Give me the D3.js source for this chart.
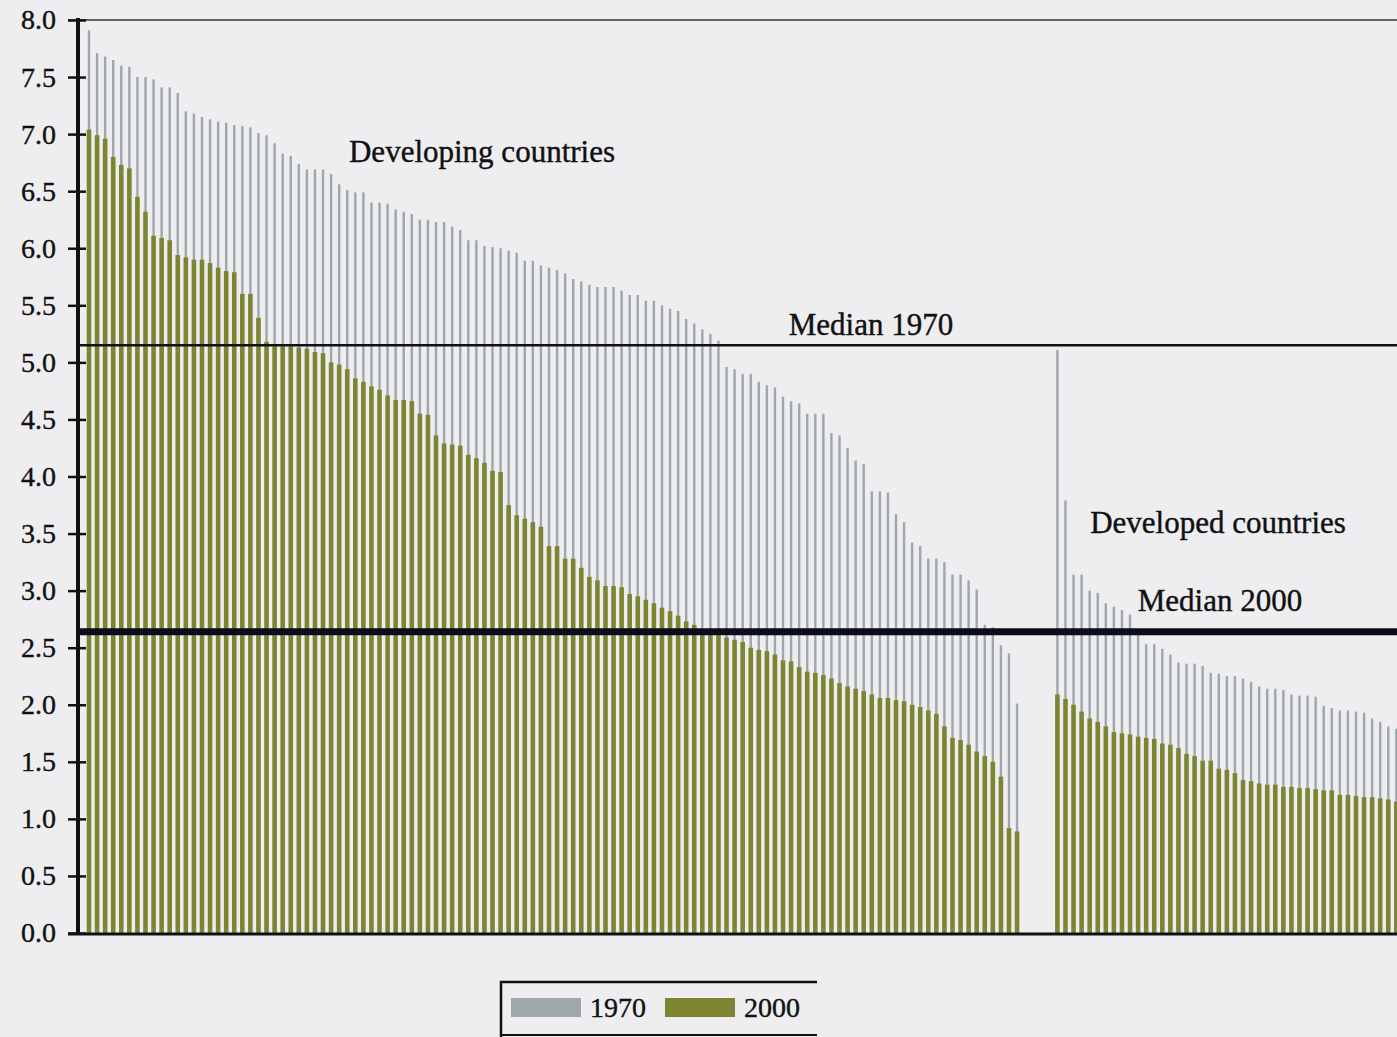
<!DOCTYPE html>
<html>
<head>
<meta charset="utf-8">
<script src="https://cdn.jsdelivr.net/npm/d3@7/dist/d3.min.js"></script>
<style type="text/css">
  body {
    margin: 0px;
    background: #eeeef1;
  }
  svg { display: block; }
  text {
    font-family: 'Liberation Serif', 'Times New Roman', serif;
    fill: #111;
  }
  .label {
    stroke: #111;
    stroke-width: 0.4px;
  }
</style>
</head>
<body>

<svg id="chart" width="1397" height="1037"></svg>

<script>

// values, countries sorted within each group
var dev1970 = [7.91, 7.71, 7.68, 7.65, 7.60, 7.59, 7.50, 7.50, 7.48, 7.41,
  7.41, 7.36, 7.20, 7.18, 7.15, 7.13, 7.11, 7.10, 7.08, 7.07,
  7.06, 7.01, 6.99, 6.92, 6.83, 6.81, 6.74, 6.69, 6.69, 6.69,
  6.65, 6.56, 6.51, 6.49, 6.49, 6.40, 6.40, 6.39, 6.34, 6.32,
  6.30, 6.25, 6.25, 6.23, 6.23, 6.19, 6.16, 6.07, 6.07, 6.02,
  6.01, 6.00, 5.98, 5.96, 5.89, 5.89, 5.85, 5.83, 5.81, 5.78,
  5.73, 5.71, 5.68, 5.66, 5.66, 5.66, 5.63, 5.59, 5.59, 5.54,
  5.54, 5.50, 5.47, 5.45, 5.38, 5.34, 5.29, 5.25, 5.19, 4.96,
  4.94, 4.90, 4.90, 4.83, 4.80, 4.78, 4.70, 4.66, 4.64, 4.55,
  4.55, 4.55, 4.38, 4.36, 4.25, 4.14, 4.11, 3.87, 3.87, 3.86,
  3.67, 3.60, 3.42, 3.39, 3.28, 3.28, 3.25, 3.14, 3.14, 3.09,
  3.01, 2.70, 2.68, 2.52, 2.45, 2.01];

var dev2000 = [7.04, 6.99, 6.96, 6.80, 6.73, 6.70, 6.45, 6.32, 6.11, 6.09,
  6.07, 5.94, 5.92, 5.90, 5.90, 5.87, 5.83, 5.80, 5.79, 5.60,
  5.60, 5.39, 5.18, 5.14, 5.14, 5.14, 5.13, 5.12, 5.09, 5.08,
  5.00, 4.98, 4.94, 4.86, 4.83, 4.79, 4.76, 4.71, 4.67, 4.67,
  4.66, 4.55, 4.54, 4.36, 4.29, 4.28, 4.27, 4.19, 4.16, 4.12,
  4.05, 4.04, 3.75, 3.66, 3.63, 3.60, 3.56, 3.39, 3.39, 3.28,
  3.28, 3.20, 3.12, 3.09, 3.04, 3.04, 3.03, 2.97, 2.95, 2.92,
  2.89, 2.85, 2.82, 2.78, 2.73, 2.70, 2.63, 2.61, 2.61, 2.59,
  2.57, 2.55, 2.50, 2.48, 2.47, 2.44, 2.39, 2.38, 2.33, 2.29,
  2.28, 2.26, 2.23, 2.19, 2.16, 2.14, 2.12, 2.09, 2.06, 2.06,
  2.04, 2.03, 2.00, 1.98, 1.95, 1.92, 1.81, 1.71, 1.69, 1.65,
  1.59, 1.55, 1.50, 1.37, 0.92, 0.89];

var ed1970 = [5.11, 3.79, 3.14, 3.14, 3.00, 2.98, 2.89, 2.86, 2.83, 2.79,
  2.66, 2.53, 2.53, 2.49, 2.44, 2.37, 2.36, 2.36, 2.34, 2.28,
  2.27, 2.25, 2.25, 2.23, 2.20, 2.16, 2.14, 2.14, 2.13, 2.09,
  2.08, 2.08, 2.07, 1.99, 1.97, 1.95, 1.95, 1.94, 1.93, 1.88,
  1.85, 1.81, 1.79];

var ed2000 = [2.09, 2.05, 2.00, 1.94, 1.88, 1.85, 1.81, 1.76, 1.75, 1.74,
  1.72, 1.71, 1.70, 1.66, 1.65, 1.62, 1.57, 1.55, 1.51, 1.51,
  1.44, 1.43, 1.40, 1.34, 1.33, 1.31, 1.30, 1.30, 1.28, 1.28,
  1.27, 1.27, 1.26, 1.25, 1.25, 1.21, 1.21, 1.20, 1.19, 1.19,
  1.18, 1.17, 1.15];

var median1970 = 5.15;
var median2000 = 2.64;

var yTicks = [0, 0.5, 1, 1.5, 2, 2.5, 3, 3.5, 4, 4.5, 5, 5.5, 6, 6.5, 7, 7.5, 8];
var seriesNames = ['1970', '2000'];
var groupLabels = ['Developing countries', 'Developed countries'];

var colGrey = '#9ea7aa';
var colOlive = '#7d8533';

// slot keys: developing, empty gap, developed
var devKeys = dev1970.map(function(d, i) { return 'dev' + i; });
var gapKeys = ['gap0', 'gap1', 'gap2', 'gap3'];
var edKeys = ed1970.map(function(d, i) { return 'ed' + i; });
var slots = devKeys.concat(gapKeys, edKeys);

var bars = [];
dev1970.forEach(function(d, i) { bars.push({ key: devKeys[i], v70: d, v00: dev2000[i] }); });
ed1970.forEach(function(d, i) { bars.push({ key: edKeys[i], v70: d, v00: ed2000[i] }); });

var axisX = 78;
var step = 8.07;

var svg = d3.select('#chart');

var x = d3.scaleBand()
  .domain(slots)
  .range([89 - step / 2, 89 - step / 2 + slots.length * step])
  .padding(0);

var y = d3.scaleLinear()
  .domain([0, 8])
  .range([933, 20]);

var plotRight = 1397;

// 1970 bars behind, 2000 bars in front
svg.append('g').selectAll('rect')
  .data(bars)
  .enter()
  .append('rect')
  .attr('x', function(d) { return x(d.key) + x.bandwidth() / 2 - 1.2; })
  .attr('width', 2.4)
  .attr('y', function(d) { return y(d.v70); })
  .attr('height', function(d) { return y(0) - y(d.v70); })
  .attr('fill', colGrey);

svg.append('g').selectAll('rect')
  .data(bars)
  .enter()
  .append('rect')
  .attr('x', function(d) { return x(d.key) + x.bandwidth() / 2 - 2.3; })
  .attr('width', 4.6)
  .attr('y', function(d) { return y(d.v00); })
  .attr('height', function(d) { return y(0) - y(d.v00); })
  .attr('fill', colOlive);

// top frame line
svg.append('line')
  .attr('x1', axisX - 10).attr('x2', plotRight)
  .attr('y1', y(8)).attr('y2', y(8))
  .attr('stroke', '#333').attr('stroke-width', 1.6);

// median lines
svg.append('line')
  .attr('x1', axisX).attr('x2', plotRight)
  .attr('y1', y(median1970)).attr('y2', y(median1970))
  .attr('stroke', '#111').attr('stroke-width', 2.6);

svg.append('line')
  .attr('x1', axisX).attr('x2', plotRight)
  .attr('y1', y(median2000)).attr('y2', y(median2000))
  .attr('stroke', '#0c0c1a').attr('stroke-width', 7);

// y axis
var yAxis = d3.axisLeft(y)
  .tickValues(yTicks)
  .tickFormat(d3.format('.1f'))
  .tickSize(10)
  .tickPadding(12);

var gy = svg.append('g')
  .attr('transform', 'translate(' + axisX + ',0)')
  .call(yAxis);

gy.select('.domain').remove();
gy.selectAll('.tick line')
  .attr('x1', 8)
  .attr('stroke', '#111')
  .attr('stroke-width', 2.5);
gy.selectAll('.tick text')
  .attr('font-size', 28)
  .attr('fill', '#111')
  .attr('class', 'label')
  .style('font-family', "'Liberation Serif', serif");

gy.append('line')
  .attr('x1', 0).attr('x2', 0)
  .attr('y1', y(8) - 2).attr('y2', y(0) + 2)
  .attr('stroke', '#111').attr('stroke-width', 4);

// baseline
svg.append('line')
  .attr('x1', axisX - 10).attr('x2', plotRight)
  .attr('y1', y(0) + 1).attr('y2', y(0) + 1)
  .attr('stroke', '#111').attr('stroke-width', 3);

// annotations
svg.append('text')
  .attr('class', 'label')
  .attr('x', 482).attr('y', 162)
  .attr('text-anchor', 'middle')
  .attr('font-size', 31)
  .text(groupLabels[0]);

svg.append('text')
  .attr('class', 'label')
  .attr('x', 1218).attr('y', 533)
  .attr('text-anchor', 'middle')
  .attr('font-size', 31)
  .text(groupLabels[1]);

svg.append('text')
  .attr('class', 'label')
  .attr('x', 871).attr('y', y(median1970) - 10)
  .attr('text-anchor', 'middle')
  .attr('font-size', 31)
  .text('Median 1970');

svg.append('text')
  .attr('class', 'label')
  .attr('x', 1220).attr('y', y(median2000) - 21)
  .attr('text-anchor', 'middle')
  .attr('font-size', 31)
  .text('Median 2000');

// legend
var legend = svg.append('g');

legend.append('path')
  .attr('d', 'M817,982 H501 V1037')
  .attr('fill', 'none')
  .attr('stroke', '#111')
  .attr('stroke-width', 2.5);

legend.append('line')
  .attr('x1', 501).attr('x2', 817)
  .attr('y1', 1035).attr('y2', 1035)
  .attr('stroke', '#111').attr('stroke-width', 2);

var legendItems = [
  { name: seriesNames[0], color: colGrey, x: 511 },
  { name: seriesNames[1], color: colOlive, x: 665 }
];

legendItems.forEach(function(it) {
  legend.append('rect')
    .attr('x', it.x).attr('y', 998)
    .attr('width', 70).attr('height', 19)
    .attr('fill', it.color);
  legend.append('text')
    .attr('class', 'label')
    .attr('x', it.x + 79).attr('y', 1017)
    .attr('font-size', 28)
    .text(it.name);
});

</script>

</body>
</html>
